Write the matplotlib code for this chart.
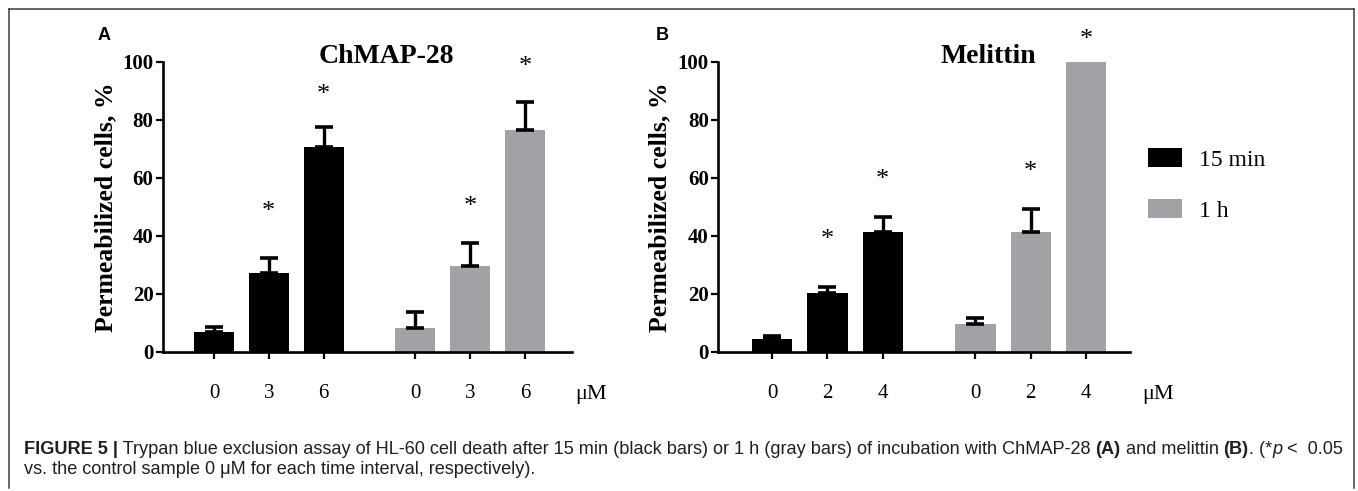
import matplotlib
matplotlib.use("Agg")
import matplotlib.pyplot as plt
from matplotlib.patches import Patch
from matplotlib.lines import Line2D
import numpy as np

# ---------------- data ----------------
doses_A = ["0", "3", "6"]
doses_B = ["0", "2", "4"]
groups = ["15 min", "1 h"]

chmap_15min = [6.7, 27.0, 70.7]
chmap_15min_err = [1.9, 5.4, 6.9]
chmap_1h = [8.3, 29.7, 76.4]
chmap_1h_err = [5.3, 7.7, 9.6]
chmap_star_15min = [None, 50.0, 90.2]
chmap_star_1h = [None, 51.7, 99.7]

mel_15min = [4.3, 20.3, 41.4]
mel_15min_err = [1.1, 2.1, 4.9]
mel_1h = [9.5, 41.4, 100.0]
mel_1h_err = [2.0, 7.7, 0.0]
mel_star_15min = [None, 40.2, 60.9]
mel_star_1h = [None, 63.8, 109.2]

titles = ["ChMAP-28", "Melittin"]
panel_letters = ["A", "B"]
yticks = [0, 20, 40, 60, 80, 100]
unit_label = "\u03bcM"
ylabel = "Permeabilized cells, %"

BLACK = "#000000"
GRAY = "#a1a1a6"
SERIF = ["Liberation Serif", "DejaVu Serif"]
SANS = ["Liberation Sans", "DejaVu Sans"]

W, H = 1358, 491
fig = plt.figure(figsize=(W / 100, H / 100), dpi=100)

def px_axes(l, r, top, bottom):
    return [l / W, 1 - bottom / H, (r - l) / W, (bottom - top) / H]

pos = np.array([0, 1, 2, 3.67, 4.67, 5.67])

panels = [
    dict(rect=px_axes(162.6, 571.7, 61.7, 351.7), xlim=(-0.936, 6.52),
         v15=chmap_15min, e15=chmap_15min_err, v1=chmap_1h, e1=chmap_1h_err,
         s15=chmap_star_15min, s1=chmap_star_1h, doses=doses_A,
         title=titles[0], tx=0.546, unitx=1.008, letter=panel_letters[0], lx=98),
    dict(rect=px_axes(717.8, 1130, 61.7, 351.7), xlim=(-0.977, 6.46),
         v15=mel_15min, e15=mel_15min_err, v1=mel_1h, e1=mel_1h_err,
         s15=mel_star_15min, s1=mel_star_1h, doses=doses_B,
         title=titles[1], tx=0.6555, unitx=1.03, letter=panel_letters[1], lx=656),
]

bw = 0.73
for p in panels:
    ax = fig.add_axes(p["rect"])
    vals = list(p["v15"]) + list(p["v1"])
    errs = list(p["e15"]) + list(p["e1"])
    cols = [BLACK] * 3 + [GRAY] * 3
    ax.bar(pos, vals, width=bw, color=cols, edgecolor="none", zorder=2)
    for x, v, e in zip(pos, vals, errs):
        if e > 0:
            ax.errorbar([x], [v], yerr=[[0], [e]], fmt="none", ecolor=BLACK,
                        elinewidth=2.4, capsize=6.2, capthick=2.6, zorder=3,
                        clip_on=False)
    stars = list(p["s15"]) + list(p["s1"])
    for x, s in zip(pos, stars):
        if s is not None:
            ax.annotate("*", xy=(x, s), xytext=(0, -3.5), textcoords="offset points",
                        ha="center", va="center", fontsize=19,
                        family=SERIF, annotation_clip=False, zorder=4)

    ax.set_xlim(*p["xlim"])
    ax.set_ylim(0, 100)
    for sp in ["top", "right"]:
        ax.spines[sp].set_visible(False)
    for sp in ["left", "bottom"]:
        ax.spines[sp].set_linewidth(1.9)
    ax.set_yticks(yticks)
    ax.set_yticklabels([str(t) for t in yticks], fontsize=15, fontweight="bold",
                       family=SERIF)
    ax.set_xticks(pos)
    ax.set_xticklabels(p["doses"] * 2, fontsize=15, family=SERIF)
    ax.tick_params(axis="y", length=5, width=1.6, pad=1.5)
    ax.tick_params(axis="x", length=5, width=1.6, pad=18)
    ax.text(-0.14, 0.5, ylabel, rotation=90, ha="center", va="center",
            fontsize=18.5, fontweight="bold", family=SERIF, transform=ax.transAxes)
    ax.text(p["tx"], 0.997, p["title"], ha="center", va="baseline",
            fontsize=20, fontweight="bold", family=SERIF, transform=ax.transAxes)
    ax.text(p["unitx"], -0.163, unit_label, ha="left", va="baseline",
            fontsize=16, family=SERIF, transform=ax.transAxes)
    fig.text(p["lx"] / W, 1 - 36 / H, p["letter"], ha="left", va="center",
             fontsize=13, fontweight="bold", family=SANS)

handles = [Patch(facecolor=BLACK, edgecolor="none", label=groups[0]),
           Patch(facecolor=GRAY, edgecolor="none", label=groups[1])]
fig.legend(handles=handles, loc="upper left",
           bbox_to_anchor=(1127 / W, 1 - 127 / H), frameon=False,
           prop=dict(family=SERIF, size=17), handlelength=1.45,
           handleheight=0.85, labelspacing=1.2, handletextpad=0.7)

# frame
fc = "#3a3a3a"
fig.add_artist(Line2D([8.5 / W, 8.5 / W], [1 - 488 / H, 1 - 9 / H], color=fc, lw=1.1))
fig.add_artist(Line2D([8.5 / W, 1354 / W], [1 - 9 / H, 1 - 9 / H], color=fc, lw=1.1))
fig.add_artist(Line2D([1354 / W, 1354 / W], [1 - 9 / H, 1 - 488 / H], color=fc, lw=1.1))

# caption
fig.canvas.draw()
renderer = fig.canvas.get_renderer()
cap_size = 13.1
cap_color = "#231f20"

def write_line(pieces, x0, y):
    x = x0
    for txt, kw in pieces:
        t = fig.text(x / W, 1 - y / H, txt, ha="left", va="baseline",
                     fontsize=cap_size, family=SANS, color=cap_color, **kw)
        bb = t.get_window_extent(renderer)
        x = x + bb.width

line1 = [("FIGURE 5 |", dict(fontweight="bold")),
         (" Trypan blue exclusion assay of HL-60 cell death after 15 min (black bars) or 1 h (gray bars) of incubation with ChMAP-28 ", {}),
         ("(A)", dict(fontweight="bold")),
         (" and melittin ", {}),
         ("(B)", dict(fontweight="bold")),
         (". (*", {}),
         ("p", dict(style="italic")),
         (" <  0.05", {})]
line2 = [("vs. the control sample 0 \u03bcM for each time interval, respectively).", {})]
write_line(line1, 24, 454)
write_line(line2, 24, 474)

fig.savefig("out.png", dpi=100)
